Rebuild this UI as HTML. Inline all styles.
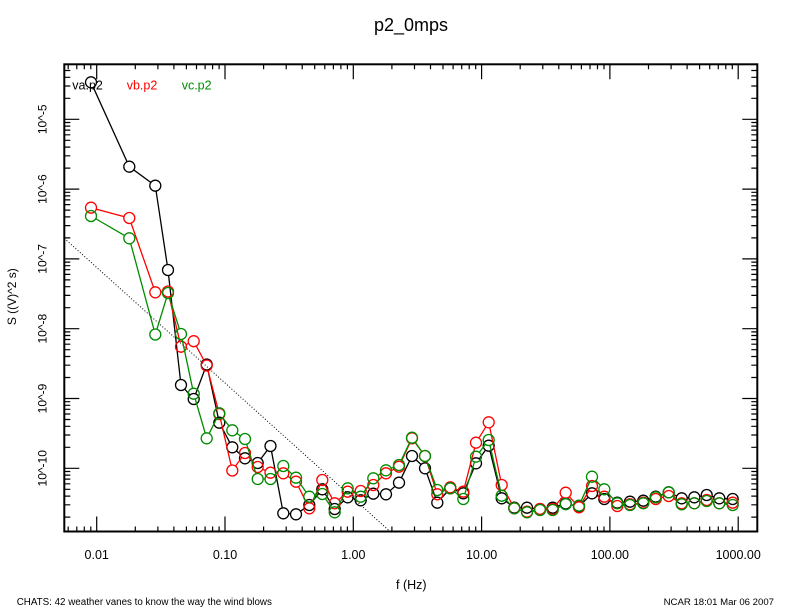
<!DOCTYPE html>
<html>
<head>
<meta charset="utf-8">
<style>
html,body{margin:0;padding:0;background:#fff;}
svg{display:block;}
text{font-family:"Liberation Sans",Arial,sans-serif;}
</style>
</head>
<body>
<svg width="792" height="612" viewBox="0 0 792 612" xmlns="http://www.w3.org/2000/svg">
<defs>
<g id="pa">
<circle cx="91" cy="82.3" r="5.5"/><circle cx="129.3" cy="166.7" r="5.5"/><circle cx="155.3" cy="185.7" r="5.5"/><circle cx="168" cy="270" r="5.5"/><circle cx="181" cy="385" r="5.5"/><circle cx="193.7" cy="399" r="5.5"/><circle cx="206.7" cy="364.5" r="5.5"/><circle cx="219.3" cy="422.7" r="5.5"/><circle cx="232.3" cy="447.3" r="5.5"/><circle cx="245" cy="458.3" r="5.5"/><circle cx="257.7" cy="463" r="5.5"/><circle cx="270.5" cy="446" r="5.5"/><circle cx="283.3" cy="513.3" r="5.5"/><circle cx="296" cy="514.3" r="5.5"/><circle cx="309.3" cy="505" r="5.5"/><circle cx="322.3" cy="489.3" r="5.5"/><circle cx="334.7" cy="509" r="5.5"/><circle cx="347.7" cy="497.3" r="5.5"/><circle cx="360.7" cy="500.3" r="5.5"/><circle cx="373.3" cy="493.7" r="5.5"/><circle cx="386" cy="494.3" r="5.5"/><circle cx="399" cy="482.7" r="5.5"/><circle cx="412" cy="456" r="5.5"/><circle cx="425" cy="468.3" r="5.5"/><circle cx="437.3" cy="502.7" r="5.5"/><circle cx="450.3" cy="488.3" r="5.5"/><circle cx="463.3" cy="493.3" r="5.5"/><circle cx="476" cy="463.3" r="5.5"/><circle cx="488.7" cy="445.7" r="5.5"/><circle cx="501.7" cy="498.3" r="5.5"/><circle cx="514.3" cy="507.7" r="5.5"/><circle cx="527" cy="507.7" r="5.5"/><circle cx="540" cy="509" r="5.5"/><circle cx="552.7" cy="507.7" r="5.5"/><circle cx="565.7" cy="503.5" r="5.5"/><circle cx="579" cy="506.7" r="5.5"/><circle cx="592" cy="493.3" r="5.5"/><circle cx="604.3" cy="499" r="5.5"/><circle cx="617.3" cy="502.7" r="5.5"/><circle cx="630" cy="501.7" r="5.5"/><circle cx="643.3" cy="500.7" r="5.5"/><circle cx="655.7" cy="496.7" r="5.5"/><circle cx="668.7" cy="492.3" r="5.5"/><circle cx="681.7" cy="498.3" r="5.5"/><circle cx="694.3" cy="497.3" r="5.5"/><circle cx="706.7" cy="495" r="5.5"/><circle cx="719.3" cy="498.3" r="5.5"/><circle cx="732.7" cy="499" r="5.5"/>
</g>
<g id="pb">
<circle cx="91" cy="207.7" r="5.5"/><circle cx="129.3" cy="218" r="5.5"/><circle cx="155.3" cy="292.3" r="5.5"/><circle cx="168" cy="291.5" r="5.5"/><circle cx="181" cy="346.7" r="5.5"/><circle cx="193.7" cy="341.2" r="5.5"/><circle cx="206.7" cy="365.5" r="5.5"/><circle cx="219.3" cy="414" r="5.5"/><circle cx="232.3" cy="470.5" r="5.5"/><circle cx="245" cy="453" r="5.5"/><circle cx="257.7" cy="467" r="5.5"/><circle cx="270.5" cy="472.7" r="5.5"/><circle cx="283.3" cy="473.3" r="5.5"/><circle cx="296" cy="481.7" r="5.5"/><circle cx="309.3" cy="508.3" r="5.5"/><circle cx="322.3" cy="480" r="5.5"/><circle cx="334.7" cy="503.3" r="5.5"/><circle cx="347.7" cy="491.7" r="5.5"/><circle cx="360.7" cy="491" r="5.5"/><circle cx="373.3" cy="485" r="5.5"/><circle cx="386" cy="473.3" r="5.5"/><circle cx="399" cy="466.7" r="5.5"/><circle cx="412" cy="438.3" r="5.5"/><circle cx="425" cy="456" r="5.5"/><circle cx="437.3" cy="494.3" r="5.5"/><circle cx="450.3" cy="487.3" r="5.5"/><circle cx="463.3" cy="491.7" r="5.5"/><circle cx="476" cy="442.7" r="5.5"/><circle cx="488.7" cy="422.3" r="5.5"/><circle cx="501.7" cy="485" r="5.5"/><circle cx="514.3" cy="508.3" r="5.5"/><circle cx="527" cy="511.7" r="5.5"/><circle cx="540" cy="509" r="5.5"/><circle cx="552.7" cy="509" r="5.5"/><circle cx="565.7" cy="492.7" r="5.5"/><circle cx="579" cy="507.3" r="5.5"/><circle cx="592" cy="486" r="5.5"/><circle cx="604.3" cy="496.7" r="5.5"/><circle cx="617.3" cy="506" r="5.5"/><circle cx="630" cy="504.3" r="5.5"/><circle cx="643.3" cy="502.7" r="5.5"/><circle cx="655.7" cy="499" r="5.5"/><circle cx="668.7" cy="496" r="5.5"/><circle cx="681.7" cy="503.3" r="5.5"/><circle cx="694.3" cy="503.3" r="5.5"/><circle cx="706.7" cy="500" r="5.5"/><circle cx="719.3" cy="503.3" r="5.5"/><circle cx="732.7" cy="502.7" r="5.5"/>
</g>
<g id="pc">
<circle cx="91" cy="216" r="5.5"/><circle cx="129.3" cy="238.3" r="5.5"/><circle cx="155.3" cy="334.5" r="5.5"/><circle cx="168" cy="293" r="5.5"/><circle cx="181" cy="334" r="5.5"/><circle cx="193.7" cy="393.7" r="5.5"/><circle cx="206.7" cy="438.3" r="5.5"/><circle cx="219.3" cy="413.3" r="5.5"/><circle cx="232.3" cy="430.3" r="5.5"/><circle cx="245" cy="439" r="5.5"/><circle cx="257.7" cy="479" r="5.5"/><circle cx="270.5" cy="479" r="5.5"/><circle cx="283.3" cy="466" r="5.5"/><circle cx="296" cy="477.7" r="5.5"/><circle cx="309.3" cy="496.7" r="5.5"/><circle cx="322.3" cy="494" r="5.5"/><circle cx="334.7" cy="512.3" r="5.5"/><circle cx="347.7" cy="488.3" r="5.5"/><circle cx="360.7" cy="496.7" r="5.5"/><circle cx="373.3" cy="478.3" r="5.5"/><circle cx="386" cy="470.3" r="5.5"/><circle cx="399" cy="465" r="5.5"/><circle cx="412" cy="437.7" r="5.5"/><circle cx="425" cy="456" r="5.5"/><circle cx="437.3" cy="490" r="5.5"/><circle cx="450.3" cy="488.3" r="5.5"/><circle cx="463.3" cy="499" r="5.5"/><circle cx="476" cy="456.7" r="5.5"/><circle cx="488.7" cy="440" r="5.5"/><circle cx="501.7" cy="495.7" r="5.5"/><circle cx="514.3" cy="508.3" r="5.5"/><circle cx="527" cy="512.3" r="5.5"/><circle cx="540" cy="510" r="5.5"/><circle cx="552.7" cy="510" r="5.5"/><circle cx="565.7" cy="504.2" r="5.5"/><circle cx="579" cy="505.7" r="5.5"/><circle cx="592" cy="476.7" r="5.5"/><circle cx="604.3" cy="489.3" r="5.5"/><circle cx="617.3" cy="503.3" r="5.5"/><circle cx="630" cy="505" r="5.5"/><circle cx="643.3" cy="503.3" r="5.5"/><circle cx="655.7" cy="497.3" r="5.5"/><circle cx="668.7" cy="492.3" r="5.5"/><circle cx="681.7" cy="504.3" r="5.5"/><circle cx="694.3" cy="503.3" r="5.5"/><circle cx="706.7" cy="501" r="5.5"/><circle cx="719.3" cy="503.3" r="5.5"/><circle cx="732.7" cy="505" r="5.5"/>
</g>
<mask id="ma" maskUnits="userSpaceOnUse" x="0" y="0" width="792" height="612"><rect x="0" y="0" width="792" height="612" fill="#fff"/><use href="#pa" fill="#000"/></mask>
<mask id="mb" maskUnits="userSpaceOnUse" x="0" y="0" width="792" height="612"><rect x="0" y="0" width="792" height="612" fill="#fff"/><use href="#pb" fill="#000"/></mask>
<mask id="mc" maskUnits="userSpaceOnUse" x="0" y="0" width="792" height="612"><rect x="0" y="0" width="792" height="612" fill="#fff"/><use href="#pc" fill="#000"/></mask>
</defs>

<rect width="792" height="612" fill="#fff"/>

<!-- title -->
<text x="411" y="31" font-size="18" text-anchor="middle" fill="#000">p2_0mps</text>

<!-- frame -->
<rect x="64.3" y="64.3" width="693" height="467.2" fill="none" stroke="#000" stroke-width="2"/>

<!-- ticks -->
<path fill="none" stroke="#000" stroke-width="1.2" d="
M96.7 531.5v-15M225 531.5v-15M353.3 531.5v-15M481.6 531.5v-15M609.9 531.5v-15M738.2 531.5v-15
M96.7 64.3v15M225 64.3v15M353.3 64.3v15M481.6 64.3v15M609.9 64.3v15M738.2 64.3v15
M68.2 531.5v-5M76.8 531.5v-5M84.3 531.5v-5M90.8 531.5v-5
M135.3 531.5v-5M157.9 531.5v-5M173.9 531.5v-5M186.4 531.5v-5M196.5 531.5v-5M205.1 531.5v-5M212.6 531.5v-5M219.1 531.5v-5
M263.6 531.5v-5M286.2 531.5v-5M302.2 531.5v-5M314.7 531.5v-5M324.8 531.5v-5M333.4 531.5v-5M340.9 531.5v-5M347.4 531.5v-5
M391.9 531.5v-5M414.5 531.5v-5M430.5 531.5v-5M443 531.5v-5M453.1 531.5v-5M461.7 531.5v-5M469.2 531.5v-5M475.7 531.5v-5
M520.2 531.5v-5M542.8 531.5v-5M558.8 531.5v-5M571.3 531.5v-5M581.4 531.5v-5M590 531.5v-5M597.5 531.5v-5M604 531.5v-5
M648.5 531.5v-5M671.1 531.5v-5M687.1 531.5v-5M699.6 531.5v-5M709.7 531.5v-5M718.3 531.5v-5M725.8 531.5v-5M732.3 531.5v-5
M68.2 64.3v5M76.8 64.3v5M84.3 64.3v5M90.8 64.3v5
M135.3 64.3v5M157.9 64.3v5M173.9 64.3v5M186.4 64.3v5M196.5 64.3v5M205.1 64.3v5M212.6 64.3v5M219.1 64.3v5
M263.6 64.3v5M286.2 64.3v5M302.2 64.3v5M314.7 64.3v5M324.8 64.3v5M333.4 64.3v5M340.9 64.3v5M347.4 64.3v5
M391.9 64.3v5M414.5 64.3v5M430.5 64.3v5M443 64.3v5M453.1 64.3v5M461.7 64.3v5M469.2 64.3v5M475.7 64.3v5
M520.2 64.3v5M542.8 64.3v5M558.8 64.3v5M571.3 64.3v5M581.4 64.3v5M590 64.3v5M597.5 64.3v5M604 64.3v5
M648.5 64.3v5M671.1 64.3v5M687.1 64.3v5M699.6 64.3v5M709.7 64.3v5M718.3 64.3v5M725.8 64.3v5M732.3 64.3v5
M64.3 119.3h15M64.3 189.1h15M64.3 258.9h15M64.3 328.7h15M64.3 398.5h15M64.3 468.3h15
M757.3 119.3h-15M757.3 189.1h-15M757.3 258.9h-15M757.3 328.7h-15M757.3 398.5h-15M757.3 468.3h-15
M64.3 98.3h6M64.3 86h6M64.3 77.3h6M64.3 70.5h6
M64.3 168.1h6M64.3 155.8h6M64.3 147.1h6M64.3 140.3h6M64.3 134.8h6M64.3 130.1h6M64.3 126.1h6M64.3 122.5h6
M64.3 237.9h6M64.3 225.6h6M64.3 216.9h6M64.3 210.1h6M64.3 204.6h6M64.3 199.9h6M64.3 195.9h6M64.3 192.3h6
M64.3 307.7h6M64.3 295.4h6M64.3 286.7h6M64.3 279.9h6M64.3 274.4h6M64.3 269.7h6M64.3 265.7h6M64.3 262.1h6
M64.3 377.5h6M64.3 365.2h6M64.3 356.5h6M64.3 349.7h6M64.3 344.2h6M64.3 339.5h6M64.3 335.5h6M64.3 331.9h6
M64.3 447.3h6M64.3 435h6M64.3 426.3h6M64.3 419.5h6M64.3 414h6M64.3 409.3h6M64.3 405.3h6M64.3 401.7h6
M64.3 517.1h6M64.3 504.8h6M64.3 496.1h6M64.3 489.3h6M64.3 483.8h6M64.3 479.1h6M64.3 475.1h6M64.3 471.5h6
M757.3 98.3h-6M757.3 86h-6M757.3 77.3h-6M757.3 70.5h-6
M757.3 168.1h-6M757.3 155.8h-6M757.3 147.1h-6M757.3 140.3h-6M757.3 134.8h-6M757.3 130.1h-6M757.3 126.1h-6M757.3 122.5h-6
M757.3 237.9h-6M757.3 225.6h-6M757.3 216.9h-6M757.3 210.1h-6M757.3 204.6h-6M757.3 199.9h-6M757.3 195.9h-6M757.3 192.3h-6
M757.3 307.7h-6M757.3 295.4h-6M757.3 286.7h-6M757.3 279.9h-6M757.3 274.4h-6M757.3 269.7h-6M757.3 265.7h-6M757.3 262.1h-6
M757.3 377.5h-6M757.3 365.2h-6M757.3 356.5h-6M757.3 349.7h-6M757.3 344.2h-6M757.3 339.5h-6M757.3 335.5h-6M757.3 331.9h-6
M757.3 447.3h-6M757.3 435h-6M757.3 426.3h-6M757.3 419.5h-6M757.3 414h-6M757.3 409.3h-6M757.3 405.3h-6M757.3 401.7h-6
M757.3 517.1h-6M757.3 504.8h-6M757.3 496.1h-6M757.3 489.3h-6M757.3 483.8h-6M757.3 479.1h-6M757.3 475.1h-6M757.3 471.5h-6
"/>

<!-- x tick labels -->
<g font-size="12.5" text-anchor="middle" fill="#000">
<text x="96.7" y="559">0.01</text>
<text x="225" y="559">0.10</text>
<text x="353.3" y="559">1.00</text>
<text x="481.6" y="559">10.00</text>
<text x="609.9" y="559">100.00</text>
<text x="738.2" y="559">1000.00</text>
</g>
<text x="411.3" y="589" font-size="12.5" text-anchor="middle" fill="#000">f (Hz)</text>

<!-- y tick labels -->
<g font-size="12" text-anchor="middle" fill="#000">
<text transform="translate(46.5,119.3) rotate(-90)">10^-5</text>
<text transform="translate(46.5,189.1) rotate(-90)">10^-6</text>
<text transform="translate(46.5,258.9) rotate(-90)">10^-7</text>
<text transform="translate(46.5,328.7) rotate(-90)">10^-8</text>
<text transform="translate(46.5,398.5) rotate(-90)">10^-9</text>
<text transform="translate(46.5,468.3) rotate(-90)">10^-10</text>
</g>
<text transform="translate(16,296.7) rotate(-90)" font-size="12" text-anchor="middle" fill="#000">S ((V)^2 s)</text>

<!-- dotted reference line -->
<line x1="64.3" y1="238.3" x2="389.5" y2="531" stroke="#000" stroke-width="1" stroke-dasharray="1,2"/>

<!-- series a (black) -->
<polyline mask="url(#ma)" fill="none" stroke="#000" stroke-width="1.3" points="91,82.3 129.3,166.7 155.3,185.7 168,270 181,385 193.7,399 206.7,364.5 219.3,422.7 232.3,447.3 245,458.3 257.7,463 270.5,446 283.3,513.3 296,514.3 309.3,505 322.3,489.3 334.7,509 347.7,497.3 360.7,500.3 373.3,493.7 386,494.3 399,482.7 412,456 425,468.3 437.3,502.7 450.3,488.3 463.3,493.3 476,463.3 488.7,445.7 501.7,498.3 514.3,507.7 527,507.7 540,509 552.7,507.7 565.7,503.5 579,506.7 592,493.3 604.3,499 617.3,502.7 630,501.7 643.3,500.7 655.7,496.7 668.7,492.3 681.7,498.3 694.3,497.3 706.7,495 719.3,498.3 732.7,499"/>
<use href="#pa" fill="none" stroke="#000" stroke-width="1.3"/>

<!-- series b (red) -->
<polyline mask="url(#mb)" fill="none" stroke="#ff0000" stroke-width="1.3" points="91,207.7 129.3,218 155.3,292.3 168,291.5 181,346.7 193.7,341.2 206.7,365.5 219.3,414 232.3,470.5 245,453 257.7,467 270.5,472.7 283.3,473.3 296,481.7 309.3,508.3 322.3,480 334.7,503.3 347.7,491.7 360.7,491 373.3,485 386,473.3 399,466.7 412,438.3 425,456 437.3,494.3 450.3,487.3 463.3,491.7 476,442.7 488.7,422.3 501.7,485 514.3,508.3 527,511.7 540,509 552.7,509 565.7,492.7 579,507.3 592,486 604.3,496.7 617.3,506 630,504.3 643.3,502.7 655.7,499 668.7,496 681.7,503.3 694.3,503.3 706.7,500 719.3,503.3 732.7,502.7"/>
<use href="#pb" fill="none" stroke="#ff0000" stroke-width="1.3"/>

<!-- series c (green) -->
<polyline mask="url(#mc)" fill="none" stroke="#008c00" stroke-width="1.3" points="91,216 129.3,238.3 155.3,334.5 168,293 181,334 193.7,393.7 206.7,438.3 219.3,413.3 232.3,430.3 245,439 257.7,479 270.5,479 283.3,466 296,477.7 309.3,496.7 322.3,494 334.7,512.3 347.7,488.3 360.7,496.7 373.3,478.3 386,470.3 399,465 412,437.7 425,456 437.3,490 450.3,488.3 463.3,499 476,456.7 488.7,440 501.7,495.7 514.3,508.3 527,512.3 540,510 552.7,510 565.7,504.2 579,505.7 592,476.7 604.3,489.3 617.3,503.3 630,505 643.3,503.3 655.7,497.3 668.7,492.3 681.7,504.3 694.3,503.3 706.7,501 719.3,503.3 732.7,505"/>
<use href="#pc" fill="none" stroke="#008c00" stroke-width="1.3"/>

<!-- legend -->
<g font-size="12.5">
<text x="72.3" y="89.3" fill="#000">va.p2</text>
<text x="126.7" y="89.3" fill="#ff0000">vb.p2</text>
<text x="181.7" y="89.3" fill="#008c00">vc.p2</text>
</g>

<!-- footer -->
<text x="16.7" y="605" font-size="9.8" fill="#000">CHATS: 42 weather vanes to know the way the wind blows</text>
<text x="774" y="605" font-size="9.6" text-anchor="end" fill="#000">NCAR 18:01 Mar 06 2007</text>
</svg>
</body>
</html>
